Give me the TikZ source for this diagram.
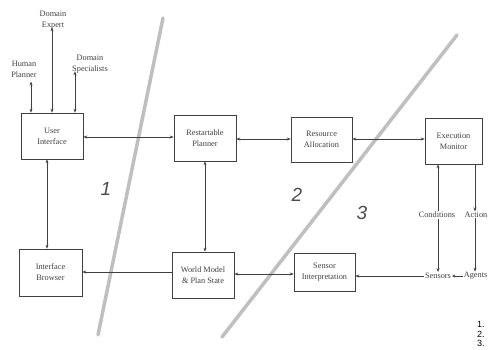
\documentclass[tikz,border=0pt]{standalone}
\usepackage{fontspec}
\setmainfont{Liberation Serif}
\newfontfamily\arialf{Liberation Sans}
\usetikzlibrary{arrows.meta}
\begin{document}
\begin{tikzpicture}[x=1pt,y=-1pt,
  box/.style={draw=black!75,line width=0.6pt,align=center,font=\fontsize{8.3}{11}\selectfont,text=black!75,inner sep=0pt},
  lbl/.style={align=center,font=\fontsize{8.3}{11}\selectfont,text=black!75,inner sep=1pt},
  conn/.style={draw=black!75,line width=0.6pt,-{Stealth[length=4pt,width=3pt]}},
  dconn/.style={draw=black!75,line width=0.6pt,{Stealth[length=4pt,width=3pt]}-{Stealth[length=4pt,width=3pt]}},
  sep/.style={draw=black!25,line width=3.5pt,line cap=round},
  zone/.style={font=\arialf\itshape\fontsize{19}{19}\selectfont,text=black!70},
  lst/.style={font=\arialf\fontsize{9}{10}\selectfont,anchor=west,inner sep=0pt}]
\useasboundingbox (0,0) rectangle (488,349);
% separators
\coordinate (s1a) at (163,18); \coordinate (s1b) at (98,335);
\coordinate (s2a) at (457,35); \coordinate (s2b) at (222,337);
\draw[sep] (s1a) -- (s1b);
\draw[sep] (s2a) -- (s2b);
% boxes
\node[box,minimum width=62pt,minimum height=46pt] (ui) at (52,136) {User\\Interface};
\node[box,minimum width=62pt,minimum height=46pt] (rp) at (205,138) {Restartable\\Planner};
\node[box,minimum width=61pt,minimum height=45pt] (ra) at (321.5,139.5) {Resource\\Allocation};
\node[box,minimum width=57pt,minimum height=46pt] (em) at (453.5,141) {Execution\\Monitor};
\node[box,minimum width=63pt,minimum height=47pt] (ib) at (50.5,272.5) {Interface\\Browser};
\node[box,minimum width=62pt,minimum height=46pt] (wm) at (203,275) {World Model\\\& Plan State};
\node[box,minimum width=61pt,minimum height=38pt] (si) at (324.5,272) {Sensor\\Interpretation};
% top labels
\node[lbl] (hp) at (24,69) {Human\\Planner};
\node[lbl] (de) at (53,20) {Domain\\Expert};
\node[lbl] (ds) at (90,64) {Domain\\Specialists};
\node[lbl] (cond) at (437,215) {Conditions};
\node[lbl,anchor=east,inner sep=0.5pt] (act) at (488,215) {Action};
\node[lbl] (sens) at (438,276) {Sensors};
\node[lbl,anchor=east,inner sep=0.5pt] (ag) at (488,276) {Agents};
% zone numbers
\node[zone] (z1) at (106,189) {1};
\node[zone] (z2) at (297,195) {2};
\node[zone] (z3) at (362,213) {3};
% numbered list
\node[lst] (n1) at (477,324) {1.};
\node[lst] (n2) at (477,334) {2.};
\node[lst] (n3) at (477,343.5) {3.};
% connectors
\draw[dconn] (hp.south -| 31,0) ++(0,3) -- (31,0 |- ui.north);
\draw[dconn] ([yshift=3pt]de.south -| 52,0) -- (52,0 |- ui.north);
\draw[dconn] ([yshift=3pt]ds.south -| 75,0) -- (75,0 |- ui.north);
\draw[dconn] (ui.east |- 0,137) -- (rp.west |- 0,137);
\draw[dconn] (rp.east |- 0,139) -- (ra.west |- 0,139);
\draw[dconn] (ra.east |- 0,139) -- (em.west |- 0,139);
\draw[dconn] (ui.south -| 47,0) -- (ib.north -| 47,0);
\draw[dconn] (rp.south -| 205,0) -- (wm.north -| 205,0);
\draw[conn] (wm.west |- 0,272) -- (ib.east |- 0,272);
\draw[dconn] (wm.east |- 0,274) -- (si.west |- 0,274);
\draw[conn] (sens.west) -- (si.east |- sens.west);
\draw[conn] (cond.north -| 438,0) -- (em.south -| 438,0);
\draw[conn] (em.south -| 475,0) -- (act.north -| 475,0);
\draw[conn] (cond.south -| 438,0) -- (sens.north -| 438,0);
\draw[conn] (act.south -| 475,0) -- (ag.north -| 475,0);
\draw[draw=black!75,line width=0.6pt,-{Stealth[length=3pt,width=3pt]}] (ag.west) -- (sens.east);
\end{tikzpicture}
\end{document}
